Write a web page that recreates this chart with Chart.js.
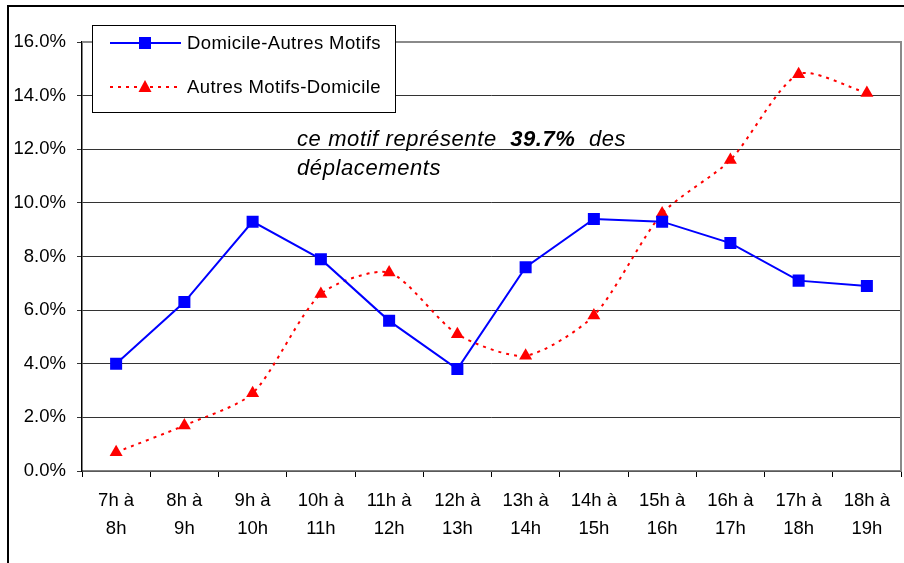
<!DOCTYPE html>
<html><head><meta charset="utf-8">
<script src="https://cdn.jsdelivr.net/npm/chart.js@4"></script>
<style>html,body{margin:0;padding:0;background:#fff}#w{width:904px;height:563px;position:relative}</style>
</head><body><div id="w"><canvas id="c" width="904" height="563"></canvas></div>
<script>
const categories = [['7h à','8h'],['8h à','9h'],['9h à','10h'],['10h à','11h'],['11h à','12h'],['12h à','13h'],['13h à','14h'],['14h à','15h'],['15h à','16h'],['16h à','17h'],['17h à','18h'],['18h à','19h']];
const domicileAutres = [4.0, 6.3, 9.3, 7.9, 5.6, 3.8, 7.6, 9.4, 9.3, 8.5, 7.1, 6.9];
const autresDomicile = [0.7, 1.7, 2.9, 6.6, 7.4, 5.1, 4.3, 5.8, 9.6, 11.6, 14.8, 14.1];
const seriesNames = ['Domicile-Autres Motifs', 'Autres Motifs-Domicile'];
const yTicks = [0, 2, 4, 6, 8, 10, 12, 14, 16];
const noteParts = [['ce motif représente  ', false], ['39.7%', true], ['  des', false]];
const noteLine2 = 'déplacements';

const FONT = '"Liberation Sans", Arial, sans-serif';

const decor = {
  id: 'decor',
  beforeDraw(chart) {
    const ctx = chart.ctx;
    ctx.save();
    ctx.fillStyle = '#fff';
    ctx.fillRect(0, 0, chart.width, chart.height);
    ctx.restore();
  },
  afterDraw(chart) {
    const ctx = chart.ctx, a = chart.chartArea;
    ctx.save();
    // outer frame
    ctx.strokeStyle = '#000'; ctx.lineWidth = 2;
    ctx.beginPath(); ctx.moveTo(8, 563); ctx.lineTo(8, 6); ctx.lineTo(904, 6); ctx.stroke();
    // plot border top/right
    ctx.strokeStyle = '#8a8a8a'; ctx.lineWidth = 2;
    ctx.beginPath(); ctx.moveTo(a.left, a.top); ctx.lineTo(a.right, a.top); ctx.lineTo(a.right, a.bottom); ctx.stroke();
    // legend
    const lx = 92, ly = 25, lw = 303, lh = 87;
    ctx.fillStyle = '#fff'; ctx.fillRect(lx, ly, lw, lh);
    ctx.strokeStyle = '#000'; ctx.lineWidth = 1;
    ctx.strokeRect(lx + 0.5, ly + 0.5, lw, lh);
    const ds = chart.data.datasets;
    const rows = [43, 87];
    ds.forEach((d, i) => {
      const y = rows[i];
      ctx.strokeStyle = d.borderColor; ctx.lineWidth = d.borderWidth;
      ctx.setLineDash(d.borderDash || []);
      ctx.beginPath(); ctx.moveTo(110, y); ctx.lineTo(181, y); ctx.stroke();
      ctx.setLineDash([]);
      ctx.fillStyle = d.pointBackgroundColor;
      if (d.pointStyle === 'rect') {
        ctx.fillRect(145 - 6, y - 6, 12, 12);
      } else {
        ctx.beginPath(); ctx.moveTo(145, y - 7); ctx.lineTo(151.5, y + 5); ctx.lineTo(138.5, y + 5); ctx.closePath(); ctx.fill();
      }
      ctx.fillStyle = '#000';
      ctx.font = '18.5px ' + FONT;
      ctx.letterSpacing = '0.4px';
      ctx.textBaseline = 'middle'; ctx.textAlign = 'left';
      ctx.fillText(d.label, 187, y + 1);
    });
    // annotation
    ctx.fillStyle = '#000'; ctx.textBaseline = 'alphabetic'; ctx.textAlign = 'left';
    ctx.letterSpacing = '0.6px';
    let x = 297;
    noteParts.forEach(([t, b]) => {
      ctx.font = (b ? 'italic bold ' : 'italic ') + '22px ' + FONT;
      ctx.fillText(t, x, 146);
      x += ctx.measureText(t).width;
    });
    ctx.font = 'italic 22px ' + FONT;
    ctx.fillText(noteLine2, 297, 175);
    ctx.restore();
  }
};

new Chart(document.getElementById('c'), {
  type: 'line',
  data: {
    labels: categories,
    datasets: [
      {
        label: seriesNames[0], data: domicileAutres,
        borderColor: '#0000ff', backgroundColor: '#0000ff', borderWidth: 2,
        pointStyle: 'rect', pointRadius: 8.5, pointBackgroundColor: '#0000ff', pointBorderColor: '#0000ff', pointBorderWidth: 0,
        tension: 0, fill: false
      },
      {
        label: seriesNames[1], data: autresDomicile,
        borderColor: '#ff0000', backgroundColor: '#ff0000', borderWidth: 2, borderDash: [3, 5],
        pointStyle: 'triangle', pointRadius: 7.5, pointBackgroundColor: '#ff0000', pointBorderColor: '#ff0000', pointBorderWidth: 0,
        tension: 0.25, fill: false
      }
    ]
  },
  options: {
    responsive: false, animation: false, devicePixelRatio: 1,
    layout: { autoPadding: false, padding: { left: 0, right: 3, top: 42, bottom: 0 } },
    plugins: { legend: { display: false }, tooltip: { enabled: false } },
    scales: {
      x: {
        offset: true,
        grid: { offset: true, drawOnChartArea: false, drawTicks: true, tickLength: 6, tickColor: '#000', color: '#000' },
        border: { color: '#808080', width: 1.5 },
        ticks: { color: '#000', font: { family: FONT, size: 18.5, lineHeight: 1.5 }, padding: 10, maxRotation: 0, autoSkip: false },
        afterFit(s) { s.height = 92; s.paddingLeft = 0; s.paddingRight = 0; }
      },
      y: {
        min: 0, max: 16,
        afterBuildTicks(s) { s.ticks = yTicks.map(v => ({ value: v })); },
        grid: { color: '#333', lineWidth: 1, drawTicks: true, tickLength: 5 },
        border: { color: '#000', width: 1.5 },
        ticks: { color: '#000', font: { family: FONT, size: 18.5 }, padding: 11, callback: v => v.toFixed(1) + '%' },
        afterFit(s) { s.width = 82; s.paddingTop = 0; s.paddingBottom = 0; }
      }
    }
  },
  plugins: [decor]
});
</script></body></html>
